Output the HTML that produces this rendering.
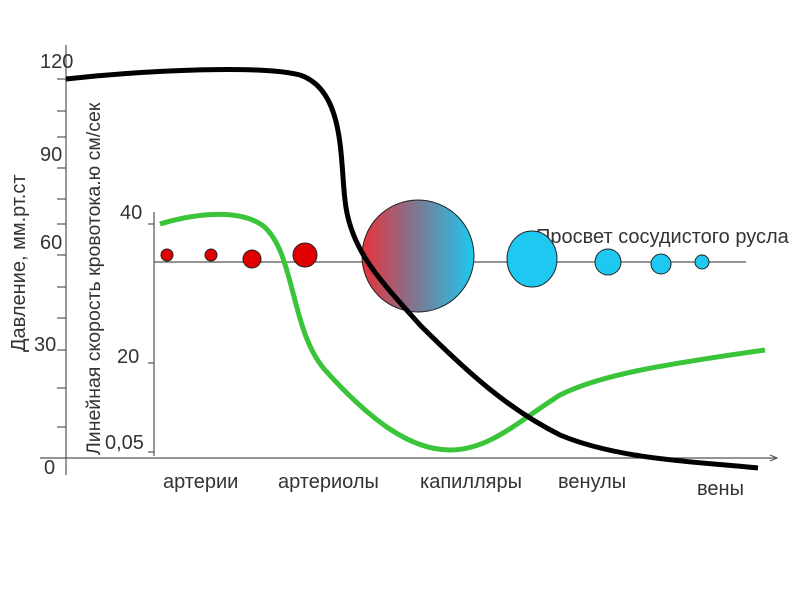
<!DOCTYPE html>
<html><head><meta charset="utf-8"><style>
html,body{margin:0;padding:0;background:#fff;}
svg{display:block;font-family:"Liberation Sans",sans-serif;}
</style></head><body>
<svg width="800" height="600" viewBox="0 0 800 600">
<defs>
<linearGradient id="g" x1="0" x2="1" y1="0" y2="0">
<stop offset="0" stop-color="#e8323a"/><stop offset="0.5" stop-color="#7a7a96"/><stop offset="1" stop-color="#1ec8f0"/>
</linearGradient>
</defs>
<g stroke="#555" stroke-width="1.2" fill="none">
<line x1="66" y1="45" x2="66" y2="475"/>
<line x1="40" y1="458" x2="776" y2="458"/>
<path d="M770 455 L777 458 L770 461" />
<line x1="154" y1="212" x2="154" y2="456"/>
<line x1="154" y1="262" x2="746" y2="262"/>
<g>
<line x1="57" y1="79" x2="66" y2="79"/><line x1="57" y1="111" x2="66" y2="111"/>
<line x1="57" y1="137" x2="66" y2="137"/><line x1="57" y1="168" x2="66" y2="168"/>
<line x1="57" y1="199" x2="66" y2="199"/><line x1="57" y1="224" x2="66" y2="224"/>
<line x1="57" y1="255" x2="66" y2="255"/><line x1="57" y1="287" x2="66" y2="287"/>
<line x1="57" y1="318" x2="66" y2="318"/><line x1="57" y1="350" x2="66" y2="350"/>
<line x1="57" y1="388" x2="66" y2="388"/><line x1="57" y1="427" x2="66" y2="427"/>
<line x1="148" y1="224" x2="154" y2="224"/><line x1="148" y1="363" x2="154" y2="363"/>
<line x1="148" y1="452" x2="154" y2="452"/>
</g>
</g>
<g fill="#333" font-size="20">
<text x="40" y="68">120</text>
<text x="40" y="161">90</text>
<text x="40" y="249">60</text>
<text x="34" y="351">30</text>
<text x="44" y="474">0</text>
<text x="120" y="219">40</text>
<text x="117" y="363">20</text>
<text x="105" y="449">0,05</text>
<text x="163" y="488">артерии</text>
<text x="278" y="488">артериолы</text>
<text x="420" y="488">капилляры</text>
<text x="558" y="488">венулы</text>
<text x="697" y="495">вены</text>
<text x="536" y="243">Просвет сосудистого русла</text>
<text transform="translate(25,352) rotate(-90)">Давление, мм.рт.ст</text>
<text transform="translate(100,455) rotate(-90)" font-size="19.5">Линейная скорость кровотока.ю см/сек</text>
</g>
<g stroke="#222" stroke-width="1">
<circle cx="167" cy="255" r="6" fill="#e00000"/>
<circle cx="211" cy="255" r="6" fill="#e00000"/>
<circle cx="252" cy="259" r="9" fill="#e00000"/>
<circle cx="305" cy="255" r="12" fill="#e00000"/>
<circle cx="418" cy="256" r="56" fill="url(#g)"/>
<ellipse cx="532" cy="259" rx="25" ry="28" fill="#1ec8f0"/>
<circle cx="608" cy="262" r="13" fill="#1ec8f0"/>
<circle cx="661" cy="264" r="10" fill="#1ec8f0"/>
<circle cx="702" cy="262" r="7" fill="#1ec8f0"/>
</g>
<path d="M160 224 C 200 212, 240 210, 262 225 C 295 250, 290 330, 325 370 C 370 420, 410 450, 450 450 C 490 450, 520 420, 560 395 C 600 375, 660 365, 765 350" stroke="#3ac43a" stroke-width="5" fill="none"/>
<path d="M66 79 C 150 70, 260 65, 300 75 C 345 90, 340 160, 345 200 C 350 250, 380 280, 420 325 C 470 375, 510 410, 560 435 C 620 460, 700 462, 758 468" stroke="#000" stroke-width="5" fill="none"/>
</svg>
</body></html>
